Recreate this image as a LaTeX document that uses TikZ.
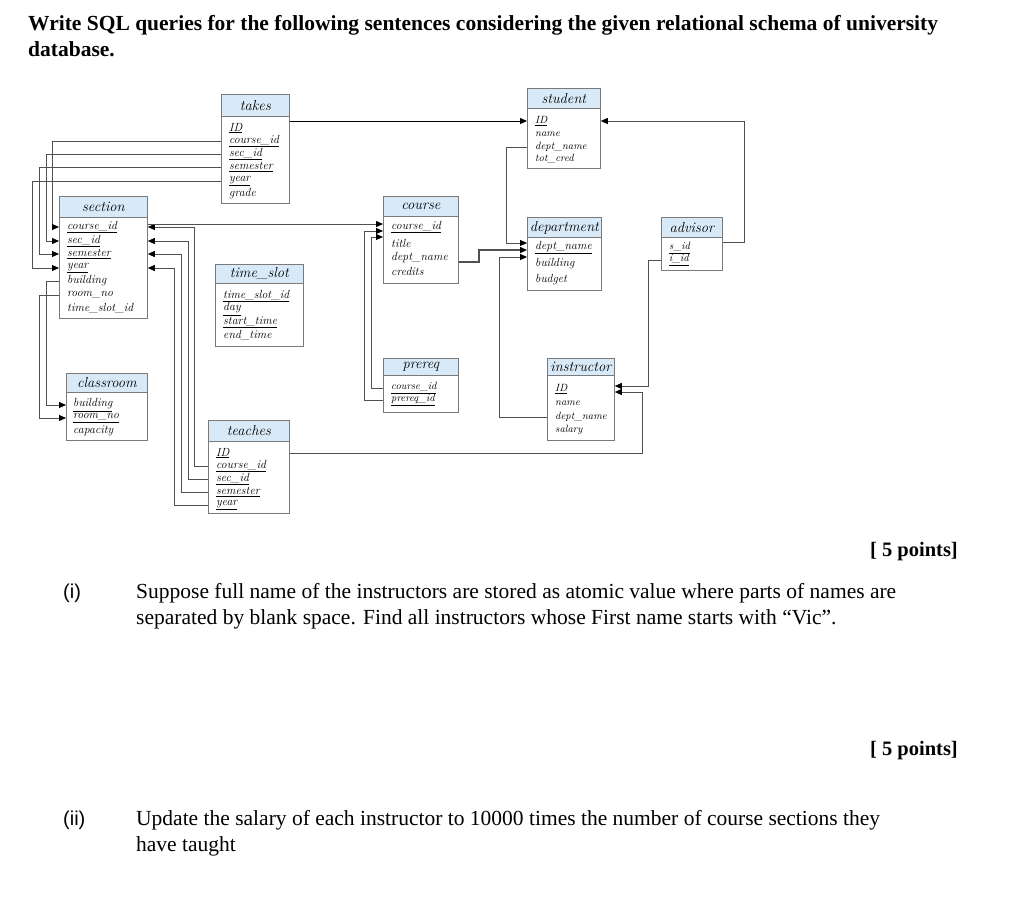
\documentclass[tikz,border=0pt]{standalone}
\usepackage{fontspec}
\newfontfamily\tnr[WordSpace=1.7]{Liberation Serif}
\newfontfamily\tnrp{Liberation Serif}
\newfontfamily\arl{Liberation Sans}
\usetikzlibrary{arrows.meta,calc}
\definecolor{boxgray}{HTML}{7A7A7A}
\definecolor{hdrblue}{HTML}{D8EAF8}
\definecolor{linegray}{HTML}{505050}
\tikzset{
  hdr/.style={draw=boxgray, fill=hdrblue, line width=0.8pt, inner sep=0pt,
    font=\itshape\fontsize{14.5}{16}\selectfont},
  bdy/.style={draw=boxgray, fill=white, line width=0.8pt, inner sep=0pt},
  rowt/.style={anchor=west, inner sep=0pt, font=\itshape\fontsize{11.8}{13}\selectfont},
  rows/.style={anchor=west, inner sep=0pt, font=\itshape\fontsize{10.5}{12}\selectfont},
  conn/.style={draw=linegray, line width=0.9pt},
  arr/.style={conn, -{Triangle[length=7pt,width=6pt,color=black]}},
  qtext/.style={anchor=base west, inner sep=0pt, font=\tnr\fontsize{21.5}{24}\selectfont},
  qbold/.style={anchor=base west, inner sep=0pt, font=\tnr\bfseries\fontsize{21.5}{24}\selectfont},
  qpts/.style={anchor=base east, inner sep=0pt, font=\tnrp\bfseries\fontsize{20.5}{24}\selectfont},
  qnum/.style={anchor=base west, inner sep=0pt, font=\arl\fontsize{20}{24}\selectfont},
}
\newcommand\dbt[7]{%
  \node[hdr, minimum width=#4, minimum height=#5, anchor=north west] (#1H) at (#2,#3) {#7};
  \node[bdy, minimum width=#4, minimum height=#6, anchor=north west] (#1) at (#2,#3+#5) {};
}
\begin{document}
\begin{tikzpicture}[x=1pt,y=-1pt]
\useasboundingbox (0,0) rectangle (1024,913);

% ---------------- tables ----------------
\dbt{takes}{221}{94}{68}{22}{87}{takes}
\node[rowt] (takes-ID) at (229,128) {\underline{ID}};
\node[rowt] (takes-cid) at (229,141) {\underline{course\_id}};
\node[rowt] (takes-sid) at (229,154) {\underline{sec\_id}};
\node[rowt] (takes-sem) at (229,167) {\underline{semester}};
\node[rowt] (takes-yr) at (229,181) {\underline{year}};
\node[rowt] (takes-gr) at (229,194) {grade};

\dbt{student}{527}{88}{73}{20}{60}{student}
\node[rows] (student-ID) at (535,121) {\underline{ID}};
\node[rows] (student-nm) at (535,134) {name};
\node[rows] (student-dn) at (535,147) {dept\_name};
\node[rows] (student-tc) at (535,159) {tot\_cred};

\dbt{section}{59}{196}{88}{21}{101}{section}
\node[rowt] (section-cid) at (67,227) {\underline{course\_id}};
\node[rowt] (section-sid) at (67,241) {\underline{sec\_id}};
\node[rowt] (section-sem) at (67,254) {\underline{semester}};
\node[rowt] (section-yr) at (67,268) {\underline{year}};
\node[rowt] (section-bd) at (67,281) {building};
\node[rowt] (section-rn) at (67,295) {room\_no};
\node[rowt] (section-ts) at (67,308) {time\_slot\_id};

\dbt{classroom}{66}{373}{81}{19}{48}{classroom}
\node[rowt] (classroom-bd) at (73,405) {\underline{building}};
\node[rowt] (classroom-rn) at (73,418) {\underline{room\_no}};
\node[rowt] (classroom-cp) at (73,431) {capacity};

\dbt{timeslot}{215}{264}{88}{19}{63}{time\_slot}
\node[rowt] (timeslot-id) at (223,296) {\underline{time\_slot\_id}};
\node[rowt] (timeslot-dy) at (223,309) {\underline{day}};
\node[rowt] (timeslot-st) at (223,322) {\underline{start\_time}};
\node[rowt] (timeslot-et) at (223,335) {end\_time};

\dbt{teaches}{208}{420}{81}{21}{72}{teaches}
\node[rowt] (teaches-ID) at (216,453) {\underline{ID}};
\node[rowt] (teaches-cid) at (216,466) {\underline{course\_id}};
\node[rowt] (teaches-sid) at (216,479) {\underline{sec\_id}};
\node[rowt] (teaches-sem) at (216,492) {\underline{semester}};
\node[rowt] (teaches-yr) at (216,505) {\underline{year}};

\dbt{course}{383}{196}{75}{20}{67}{course}
\node[rowt] (course-cid) at (391,227) {\underline{course\_id}};
\node[rowt] (course-tt) at (391,243) {title};
\node[rowt] (course-dn) at (391,258) {dept\_name};
\node[rowt] (course-cr) at (391,271) {credits};

\dbt{department}{527}{217}{74}{20}{53}{department}
\node[rowt] (department-dn) at (535,248) {\underline{dept\_name}};
\node[rowt] (department-bd) at (535,264) {building};
\node[rowt] (department-bg) at (535,280) {budget};

\dbt{advisor}{661}{217}{61}{20}{33}{advisor}
\node[rows] (advisor-sid) at (669,248) {\underline{s\_id}};
\node[rows] (advisor-iid) at (669,260) {\underline{i\_id}};

\dbt{prereq}{383}{358}{75}{17}{37}{prereq}
\node[rows] (prereq-cid) at (391,388) {\underline{course\_id}};
\node[rows] (prereq-pid) at (391,400) {\underline{prereq\_id}};

\dbt{instructor}{547}{358}{67}{17}{65}{instructor}
\node[rows] (instructor-ID) at (555,389) {\underline{ID}};
\node[rows] (instructor-nm) at (555,403) {name};
\node[rows] (instructor-dn) at (555,417) {dept\_name};
\node[rows] (instructor-sl) at (555,430) {salary};

% ---------------- connectors ----------------
\draw[arr, draw=black] (takes.east |- student-ID) -- (student.west |- student-ID);

\draw[arr] (takes.west |- takes-cid) -- ++(-169,0) |- (section.west |- section-cid);
\draw[arr] (takes.west |- takes-sid) -- ++(-175,0) |- (section.west |- section-sid);
\draw[arr] (takes.west |- takes-sem) -- ++(-182,0) |- (section.west |- section-sem);
\draw[arr] (takes.west |- takes-yr) -- ++(-189,0) |- (section.west |- section-yr);

\draw[arr] (section.west |- section-bd) -- ++(-13,0) |- (classroom.west |- classroom-bd);
\draw[arr] (section.west |- section-rn) -- ++(-20,0) |- (classroom.west |- classroom-rn);

\draw[arr] (teaches.west |- teaches-cid) -- ++(-14,0) |- (section.east |- section-cid);
\draw[arr] (teaches.west |- teaches-sid) -- ++(-20,0) |- (section.east |- section-sid);
\draw[arr] (teaches.west |- teaches-sem) -- ++(-27,0) |- (section.east |- section-sem);
\draw[arr] (teaches.west |- teaches-yr) -- ++(-34,0) |- (section.east |- section-yr);

\draw[arr] ($(section.east |- section-cid)+(0,-3)$) -- ($(course.west |- section-cid)+(0,-3)$);
\draw[arr] (prereq.west |- prereq-cid) -- ++(-12,0) |- ($(course.west |- course-cid)+(0,10)$);
\draw[arr] (prereq.west |- prereq-pid) -- ++(-19,0) |- ($(course.west |- course-cid)+(0,4)$);

\draw[arr, line width=1.5pt] ($(course.east |- course-dn)+(0,4)$) -- ++(20,0) |- ($(department.west |- department-dn)+(0,2)$);
\draw[arr] (student.west |- student-dn) -- ++(-21,0) |- ($(department.west |- department-dn)+(0,-5)$);
\draw[arr] (instructor.west |- instructor-dn) -- ++(-48,0) |- ($(department.west |- department-dn)+(0,9)$);

\draw[arr] ($(advisor.east |- advisor-sid)+(0,-6)$) -- ++(22,0) |- (student.east |- student-ID);
\draw[arr] (advisor.west |- advisor-iid) -- ++(-13,0) |- ($(instructor.east |- instructor-ID)+(0,-3)$);
\draw[arr] (teaches.east |- teaches-ID) -- ++(353,0) |- ($(instructor.east |- instructor-ID)+(0,3)$);

% ---------------- question text ----------------
\node[qbold] (title1) at (28,30) {Write SQL queries for the following sentences considering the given relational schema of university};
\node[qbold] (title2) at (28,56) {database.};

\node[qpts] (pts1) at (958,556) {[ 5 points]};
\node[qnum] (num1) at (63,598) {(i)};
\node[qtext] (q1a) at (136,598) {Suppose full name of the instructors are stored as atomic value where parts of names are};
\node[qtext] (q1b) at (136,624) {separated by blank space. Find all instructors whose First name starts with \textquotedblleft Vic\textquotedblright.};

\node[qpts] (pts2) at (958,755) {[ 5 points]};
\node[qnum] (num2) at (63,825) {(ii)};
\node[qtext] (q2a) at (136,825) {Update the salary of each instructor to 10000 times the number of course sections they};
\node[qtext] (q2b) at (136,851) {have taught};
\end{tikzpicture}
\end{document}
